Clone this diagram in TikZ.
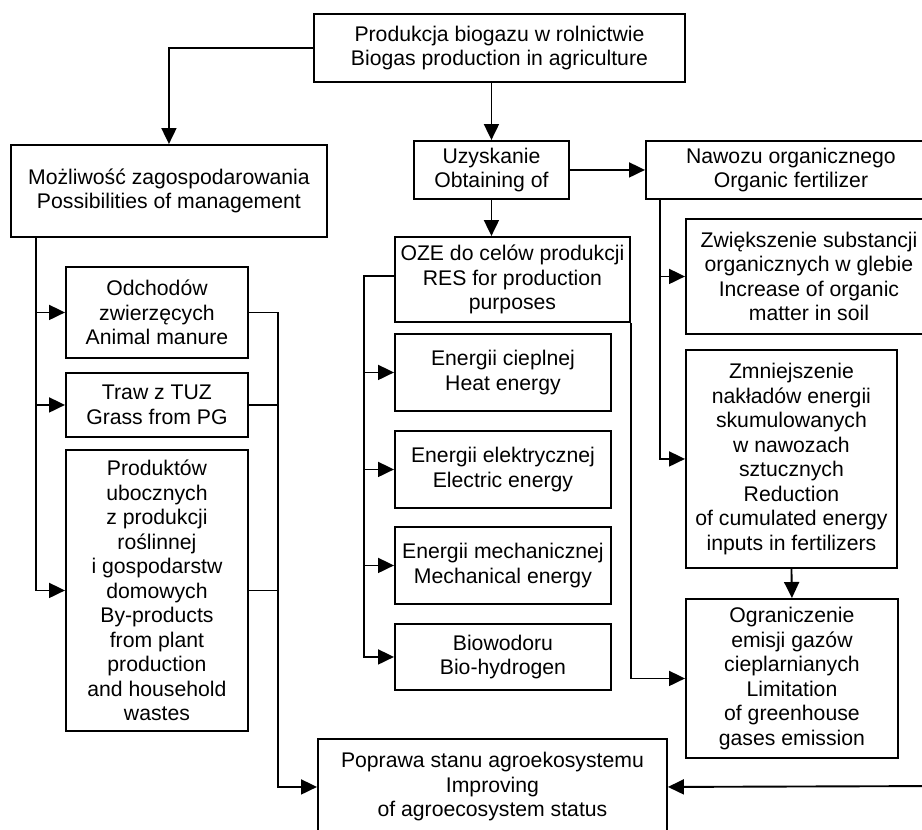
\documentclass[tikz,border=0pt]{standalone}
\usepackage{fontspec}
\setmainfont{Liberation Sans}
\usepackage{tikz}
\usetikzlibrary{arrows.meta}

\begin{document}
\begin{tikzpicture}[x=1pt,y=-1pt,line width=1.9pt]
\tikzstyle{box}=[draw,align=center,inner sep=0pt,anchor=north west,font=\fontsize{21.2}{24.5}\selectfont]
\tikzstyle{arr}=[-{Triangle[length=16pt,width=15pt]}]
\useasboundingbox (0,0) rectangle (922,830);
\clip (0,0) rectangle (922,830);

\node[box,minimum width=371,minimum height=68] (top) at (313,13) {Produkcja biogazu w rolnictwie\\Biogas production in agriculture};
\node[box,minimum width=316,minimum height=92] (mozl) at (10,144) {Możliwość zagospodarowania\\Possibilities of management};
\node[box,minimum width=155,minimum height=58] (uzy) at (413,140) {Uzyskanie\\Obtaining of};
\node[box,minimum width=290,minimum height=58] (naw) at (645,140) {Nawozu organicznego\\Organic fertilizer};
\node[box,minimum width=235,minimum height=85] (oze) at (394,236) {OZE do celów produkcji\\RES for production\\purposes};
\node[box,minimum width=216,minimum height=77] (heat) at (394,333) {Energii cieplnej\\Heat energy};
\node[box,minimum width=216,minimum height=77] (elec) at (394,430) {Energii elektrycznej\\Electric energy};
\node[box,minimum width=216,minimum height=77] (mech) at (394,526) {Energii mechanicznej\\Mechanical energy};
\node[box,minimum width=216,minimum height=66] (bio) at (394,623) {Biowodoru\\Bio-hydrogen};
\node[box,minimum width=246,minimum height=115] (zwi) at (685,218) {Zwiększenie substancji\\organicznych w glebie\\Increase of organic\\matter in soil};
\node[box,minimum width=211,minimum height=218] (zmn) at (685,349) {Zmniejszenie\\nakładów energii\\skumulowanych\\w nawozach\\sztucznych\\Reduction\\of cumulated energy\\inputs in fertilizers};
\node[box,minimum width=212,minimum height=159] (ogr) at (685,598) {Ograniczenie\\emisji gazów\\cieplarnianych\\Limitation\\of greenhouse\\gases emission};
\node[box,minimum width=182,minimum height=91] (odch) at (65,266) {Odchodów\\zwierzęcych\\Animal manure};
\node[box,minimum width=182,minimum height=64] (traw) at (65,372) {Traw z TUZ\\Grass from PG};
\node[box,minimum width=182,minimum height=281] (prod) at (65,449) {Produktów\\ubocznych\\z produkcji\\roślinnej\\i gospodarstw\\domowych\\By-products\\from plant\\production\\and household\\wastes};
\node[box,minimum width=349,minimum height=96] (pop) at (317,738) {Poprawa stanu agroekosystemu\\Improving\\of agroecosystem status};

\coordinate (mozL) at (36,236);
\coordinate (colR) at (278,313);
\coordinate (ozeL) at (364,276);
\coordinate (nawL) at (660,198);
\coordinate (rgt) at (945,786);

\draw[arr] (top.west) -| (mozl.north);
\draw[arr] (uzy.north |- top.south) -- (uzy.north);
\draw[arr] (uzy.east) -- (naw.west);
\draw[arr] (uzy.south) -- (uzy.south |- oze.north);

\draw[arr] (mozL) |- (prod.west);
\draw[arr] (mozL |- odch.west) -- (odch.west);
\draw[arr] (mozL |- traw.west) -- (traw.west);
\draw[arr] (odch.east) -- (odch.east -| colR) |- (pop.west);
\draw (traw.east) -- (traw.east -| colR);
\draw (prod.east) -- (prod.east -| colR);

\draw[arr] (oze.west |- ozeL) -- (ozeL) |- (bio.west);
\draw[arr] (ozeL |- heat.west) -- (heat.west);
\draw[arr] (ozeL |- elec.west) -- (elec.west);
\draw[arr] (ozeL |- mech.west) -- (mech.west);
\draw[arr] (oze.south east) |- (ogr.west);

\draw[arr] (nawL) |- (zmn.west);
\draw[arr] (nawL |- zwi.west) -- (zwi.west);
\draw[arr] (zmn.south) -- (ogr.north);
\draw[arr] (rgt) -- (pop.east);
\end{tikzpicture}
\end{document}
